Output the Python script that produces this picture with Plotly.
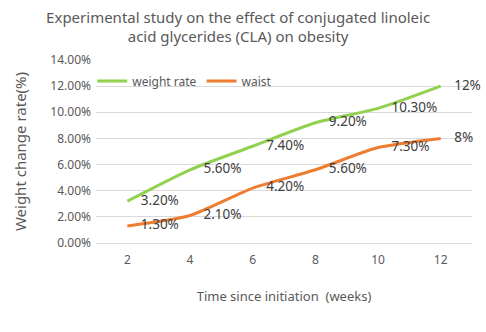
import plotly.graph_objects as go

weeks = ["2", "4", "6", "8", "10", "12"]
weight_rate = [3.2, 5.6, 7.4, 9.2, 10.3, 12.0]
waist = [1.3, 2.1, 4.2, 5.6, 7.3, 8.0]
weight_labels = ["3.20%", "5.60%", "7.40%", "9.20%", "10.30%", "12%"]
waist_labels = ["1.30%", "2.10%", "4.20%", "5.60%", "7.30%", "8%"]
y_ticks = [0, 2, 4, 6, 8, 10, 12, 14]
y_tick_labels = ["%.2f%%" % v for v in y_ticks]

font_family = "Noto Sans, Open Sans, sans-serif"
green = "#92D050"
orange = "#ED7D31"

fig = go.Figure()
for name, vals, labels, color in [
    ("weight rate", weight_rate, weight_labels, green),
    ("waist", waist, waist_labels, orange),
]:
    fig.add_trace(go.Scatter(
        x=weeks, y=vals, name=name,
        mode="lines+markers+text",
        line=dict(color=color, width=3, shape="spline", smoothing=0.6),
        marker=dict(size=20, color="rgba(0,0,0,0)"),
        text=labels, textposition="middle right",
        textfont=dict(family=font_family, size=13.5, color="#404040"),
        cliponaxis=False,
        hoverinfo="skip",
    ))

fig.update_layout(
    width=486, height=332,
    margin=dict(l=96, r=14, t=60, b=89),
    paper_bgcolor="white", plot_bgcolor="white",
    font=dict(family=font_family, color="#595959"),
    title=dict(
        text="Experimental study on the effect of conjugated linoleic<br>acid glycerides (CLA) on obesity",
        x=0.49, xanchor="center", y=0.932, yanchor="middle",
        font=dict(size=15, color="#595959"),
    ),
    showlegend=True,
    legend=dict(
        orientation="h", x=-0.01, xanchor="left", y=0.885, yanchor="middle",
        bgcolor="rgba(0,0,0,0)", font=dict(size=12, color="#595959"),
        itemwidth=30, tracegroupgap=0,
    ),
    xaxis=dict(
        type="category", range=[-0.5, 5.5],
        showgrid=False, showline=True, linecolor="#D9D9D9", linewidth=1,
        ticks="", tickfont=dict(size=12, color="#595959"), ticklabelstandoff=6,
        title=dict(text="Time since initiation  (weeks)", font=dict(size=13, color="#595959"), standoff=24),
    ),
    yaxis=dict(
        range=[0, 14], tickvals=y_ticks, ticktext=y_tick_labels,
        showgrid=True, gridcolor="#D9D9D9", gridwidth=1, zeroline=False,
        ticks="", tickfont=dict(size=12, color="#595959"), ticklabelstandoff=4,
        title=dict(text="Weight change rate(%)", font=dict(size=15, color="#595959"), standoff=20),
    ),
)

fig.write_html("out.html")
